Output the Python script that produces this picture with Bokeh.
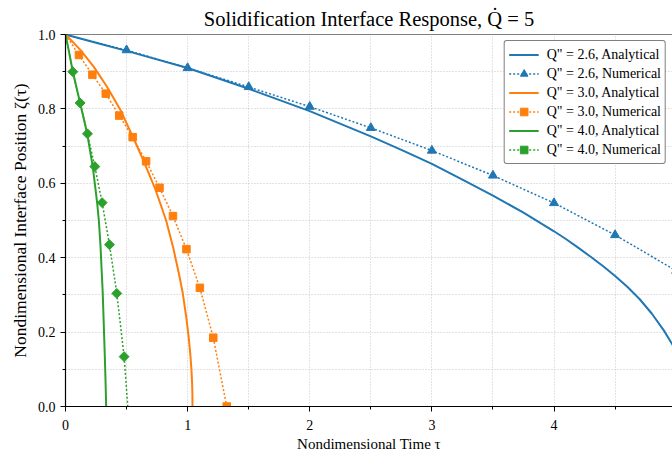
import numpy as np
from bokeh.plotting import figure
from bokeh.models import (FixedTicker, Legend, LegendItem, Span, Range1d,
                          PrintfTickFormatter)
from bokeh.embed import file_html
from bokeh.resources import INLINE

# ---- data -------------------------------------------------------------
# Q'' = 2.6
tau_a26 = [0, 0.25, 0.5, 1.0, 1.5, 2.0, 2.5, 2.75, 3.0, 3.25, 3.5, 3.75, 4.0, 4.1, 4.2, 4.3, 4.4,
           4.5, 4.6, 4.7, 4.8, 4.9, 5.0]
zeta_a26 = [1.0, 0.978, 0.956, 0.910, 0.854, 0.794, 0.726, 0.690, 0.652, 0.610, 0.567, 0.521, 0.471,
            0.4495, 0.4265, 0.4025, 0.3775, 0.351, 0.322, 0.289, 0.250, 0.204, 0.150]
tau_n26 = [0, 0.5, 1.0, 1.5, 2.0, 2.5, 3.0, 3.5, 4.0, 4.5, 5.0]
zeta_n26 = [1.0, 0.958, 0.910, 0.859, 0.806, 0.749, 0.688, 0.621, 0.547, 0.461, 0.365]

# Q'' = 3.0
tau_a30 = [0, 0.06, 0.123, 0.232, 0.341, 0.45, 0.546, 0.641, 0.731, 0.777, 0.824, 0.881, 0.93,
           0.96, 0.99, 1.009, 1.022, 1.031, 1.036, 1.039, 1.04]
zeta_a30 = [1.0, 0.98, 0.958, 0.913, 0.859, 0.797, 0.729, 0.659, 0.588, 0.545, 0.50, 0.428, 0.355,
            0.305, 0.237, 0.185, 0.14, 0.10, 0.067, 0.035, 0.0]
tau_n30 = [0, 0.11, 0.22, 0.33, 0.44, 0.55, 0.66, 0.77, 0.88, 0.99, 1.10, 1.21, 1.32]
zeta_n30 = [1.0, 0.945, 0.892, 0.841, 0.782, 0.724, 0.659, 0.588, 0.512, 0.423, 0.319, 0.185, 0.0]

# Q'' = 4.0
tau_a40 = [0, 0.03, 0.06, 0.12, 0.178, 0.223, 0.259, 0.273, 0.286, 0.305, 0.314, 0.322, 0.328, 0.333]
zeta_a40 = [1.0, 0.952, 0.90, 0.815, 0.733, 0.645, 0.548, 0.50, 0.435, 0.304, 0.214, 0.134, 0.065, 0.0]
tau_n40 = [0, 0.06, 0.12, 0.18, 0.24, 0.30, 0.36, 0.42, 0.48, 0.51]
zeta_n40 = [1.0, 0.90, 0.816, 0.733, 0.645, 0.548, 0.435, 0.304, 0.134, 0.0]

x_ticks = [0, 1, 2, 3, 4]
x_minor = [0.5, 1.5, 2.5, 3.5, 4.5]
y_ticks = [0.0, 0.2, 0.4, 0.6, 0.8, 1.0]
y_minor = [0.1, 0.3, 0.5, 0.7, 0.9]

BLUE, ORANGE, GREEN = "#1f77b4", "#ff7f0e", "#2ca02c"
SERIF = "Liberation Serif"

p = figure(width=672, height=455, output_backend="svg", toolbar_location=None,
           x_range=Range1d(0, 4.97), y_range=Range1d(0, 1),
           min_border_left=65, min_border_right=0, min_border_top=34, min_border_bottom=49,
           title="Solidification Interface Response, Q\u0307 = 5")
p.background_fill_color = "white"
p.border_fill_color = "white"
p.outline_line_color = None

p.title.text_font = SERIF
p.title.text_font_style = "normal"
p.title.text_font_size = "20.5px"
p.title.text_color = "black"
p.title.align = "center"
p.title.standoff = 10

# axes
p.xaxis.ticker = FixedTicker(ticks=x_ticks, minor_ticks=x_minor)
p.yaxis.ticker = FixedTicker(ticks=y_ticks, minor_ticks=y_minor)
p.xaxis.formatter = PrintfTickFormatter(format="%d")
p.yaxis.formatter = PrintfTickFormatter(format="%.1f")
p.xaxis.axis_label = "Nondimensional Time \u03c4"
p.yaxis.axis_label = "Nondimensional Interface Position \u03b6(\u03c4)"
for ax in (p.xaxis, p.yaxis):
    ax.axis_line_color = "black"
    ax.axis_line_width = 1.2
    ax.major_tick_line_color = "black"
    ax.minor_tick_line_color = "black"
    ax.major_tick_out = 5
    ax.major_tick_in = 0
    ax.minor_tick_out = 3
    ax.minor_tick_in = 0
    ax.major_label_text_font = SERIF
    ax.major_label_text_font_size = "14px"
    ax.major_label_text_color = "black"
    ax.major_label_standoff = 5
    ax.axis_label_text_font = SERIF
    ax.axis_label_text_font_style = "normal"
    ax.axis_label_text_color = "black"
    ax.axis_label_standoff = 5
p.xaxis.major_label_standoff = 8
p.xaxis.axis_label_standoff = 3
p.xaxis.axis_label_text_font_size = "15px"
p.yaxis.axis_label_text_font_size = "17.5px"

for g in (p.xgrid, p.ygrid):
    g.grid_line_color = "#b8b8b8"
    g.grid_line_dash = "1 2"
    g.grid_line_width = 0.8
    g.minor_grid_line_color = "#b8b8b8"
    g.minor_grid_line_dash = "1 2"
    g.minor_grid_line_width = 0.8

# top frame edge
p.add_layout(Span(location=1.0, dimension="width", line_color="black", line_width=1.2))

items = []
series = [
    ("2.6", BLUE, tau_a26, zeta_a26, tau_n26, zeta_n26, "triangle", 9, 0.0, slice(1, None)),
    ("3.0", ORANGE, tau_a30, zeta_a30, tau_n30, zeta_n30, "square", 7.5, 0.0, slice(1, None)),
    ("4.0", GREEN, tau_a40, zeta_a40, tau_n40, zeta_n40, "square", 7, np.pi / 4, slice(1, -1)),
]
for q, col, ta, za, tn, zn, mk, ms, ang, sel in series:
    la = p.line(ta, za, line_color=col, line_width=2)
    ln = p.line(tn, zn, line_color=col, line_width=1.5, line_dash="2 2")
    sc = p.scatter(tn[sel], zn[sel], marker=mk, size=ms, angle=ang,
                   fill_color=col, line_color=col)
    items.append(LegendItem(label=f'Q" = {q}, Analytical', renderers=[la]))
    items.append(LegendItem(label=f'Q" = {q}, Numerical', renderers=[ln, sc]))

legend = Legend(items=items, location="top_right")
legend.margin = 6
legend.padding = 4
legend.spacing = 0
legend.glyph_width = 30
legend.glyph_height = 19
legend.label_height = 19
legend.label_standoff = 8
legend.label_text_font = SERIF
legend.label_text_font_size = "14px"
legend.label_text_color = "black"
legend.border_line_color = "black"
legend.border_line_width = 1.2
legend.background_fill_color = "white"
legend.background_fill_alpha = 1.0
if "border_radius" in Legend.properties():
    legend.border_radius = 3
p.add_layout(legend)

open("out.html", "w").write(file_html(p, INLINE))
